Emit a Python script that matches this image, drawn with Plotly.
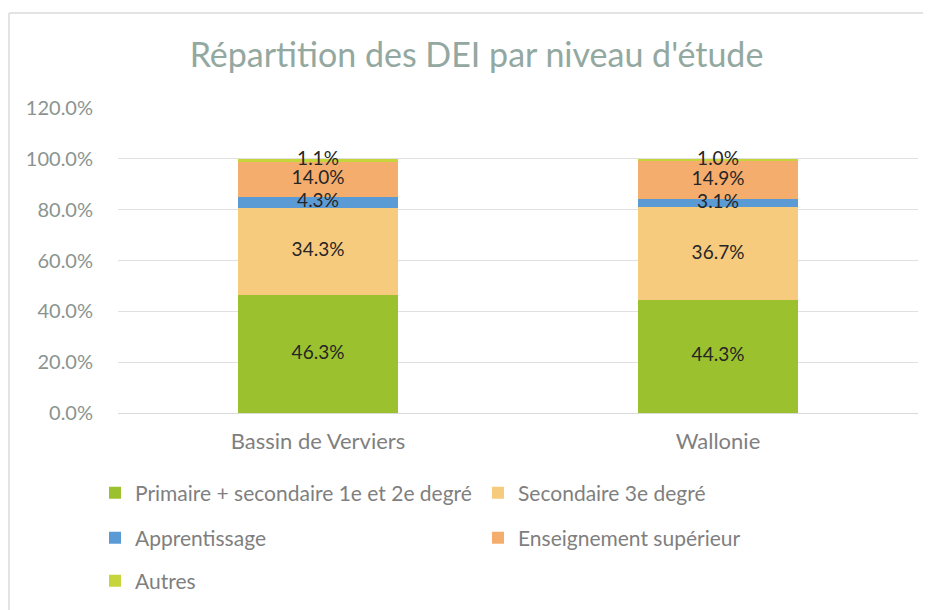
import plotly.graph_objects as go

categories = ["Bassin de Verviers", "Wallonie"]
series_names = [
    "Primaire + secondaire 1e et 2e degré",
    "Secondaire 3e degré",
    "Apprentissage",
    "Enseignement supérieur",
    "Autres",
]
primaire = [0.463, 0.443]
secondaire3 = [0.343, 0.367]
apprentissage = [0.043, 0.031]
superieur = [0.140, 0.149]
autres = [0.011, 0.010]
y_ticks = [0, 0.2, 0.4, 0.6, 0.8, 1.0, 1.2]

series_values = [primaire, secondaire3, apprentissage, superieur, autres]
colors = ["#9BC22E", "#F7CB7E", "#5B9BD5", "#F4AD6C", "#C7D53C"]
legends = ["legend", "legend", "legend2", "legend2", "legend3"]

FONT = "Lato"
OFF = 8  # page body margin offset
W, H = 931 - OFF, 610 - OFF

fig = go.Figure()

for name, vals, col, lg in zip(series_names, series_values, colors, legends):
    fig.add_trace(go.Bar(
        x=categories, y=vals, name=name, marker_color=col,
        marker_line_width=0, legend=lg,
    ))

# labels centered in each segment
base = [0.0] * len(categories)
for vals in series_values:
    mids = [b + v / 2 for b, v in zip(base, vals)]
    fig.add_trace(go.Scatter(
        x=categories, y=mids, mode="text",
        text=[f"{v*100:.1f}%" for v in vals],
        textfont=dict(family=FONT, size=19, color="#262626"),
        showlegend=False, hoverinfo="skip", cliponaxis=False,
    ))
    base = [b + v for b, v in zip(base, vals)]

# reference pixel coordinates, converted to figure coords
px_left, px_right, px_top, px_bot = 118 - OFF, 918 - OFF, 108 - OFF, 413 - OFF
def xp(p): return (p - OFF - px_left) / (px_right - px_left)
def yp(p): return (px_bot - (p - OFF)) / (px_bot - px_top)

fig.add_shape(type="line", xref="paper", yref="paper",
              x0=xp(9), x1=xp(940), y0=yp(13), y1=yp(13),
              line=dict(color="#e3e3e3", width=2), layer="below")
fig.add_shape(type="line", xref="paper", yref="paper",
              x0=xp(9), x1=xp(9), y0=yp(13), y1=yp(620),
              line=dict(color="#e3e3e3", width=2), layer="below")

legend_common = dict(
    orientation="h", xanchor="left", yanchor="middle",
    font=dict(family=FONT, size=21, color="#7f7f7f"),
    entrywidth=338, entrywidthmode="pixels", bgcolor="rgba(0,0,0,0)",
    itemwidth=30, traceorder="normal",
)

fig.update_layout(
    width=W, height=H,
    margin=dict(l=px_left, r=W - px_right, t=px_top, b=H - px_bot,
                autoexpand=False),
    paper_bgcolor="white", plot_bgcolor="white",
    barmode="stack", bargap=0.6,
    title=dict(text="Répartition des DEI par niveau d'étude",
               x=(476.5 - OFF) / W, xanchor="center",
               y=1 - (55 - OFF) / H, yanchor="middle",
               font=dict(family=FONT, size=34, color="#93a8a0")),
    xaxis=dict(showgrid=False, showline=False, ticks="",
               ticklabelstandoff=13,
               tickfont=dict(family=FONT, size=22, color="#7f7f7f")),
    yaxis=dict(range=[0, 1.2], tickvals=y_ticks, tickformat=".1%",
               showgrid=True, gridcolor="#e0e0e0", gridwidth=1,
               zeroline=True, zerolinecolor="#d9d9d9", zerolinewidth=1,
               showline=False, ticks="", ticklabelstandoff=24,
               tickfont=dict(family=FONT, size=20, color="#8a948f")),
    legend=dict(x=xp(95), y=yp(493), **legend_common),
    legend2=dict(x=xp(95), y=yp(538), **legend_common),
    legend3=dict(x=xp(95), y=yp(581), **legend_common),
    showlegend=True,
)

fig.write_html("out.html")
